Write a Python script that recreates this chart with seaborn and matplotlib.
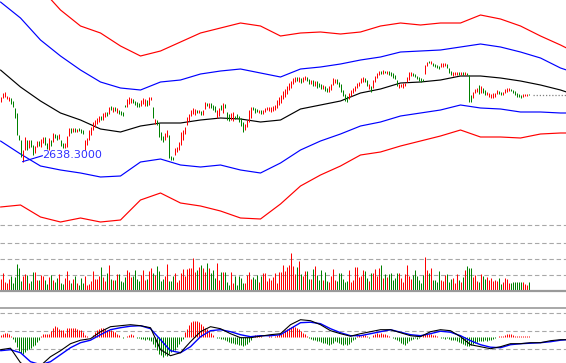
import numpy as np
import pandas as pd
import matplotlib
matplotlib.use("Agg")
import matplotlib.pyplot as plt
import seaborn as sns

# ---------------- data ----------------
# daily candles (index points)
open_px = [
    2698, 2702, 2703, 2701, 2699, 2702, 2699, 2692, 2687, 2665,
    2660, 2638.3, 2650, 2660, 2652, 2660, 2655, 2647, 2653, 2659,
    2653, 2657, 2663, 2657, 2650, 2660, 2658, 2666, 2665, 2661,
    2660, 2657, 2652, 2653, 2664, 2672, 2668, 2672, 2668, 2672,
    2671, 2670, 2650, 2655, 2660, 2665, 2670, 2673, 2676, 2678,
    2684, 2680, 2683, 2688, 2686, 2694, 2688, 2693, 2687, 2690,
    2689, 2688, 2695, 2693, 2696, 2697, 2701, 2699, 2698, 2697,
    2694, 2696, 2694, 2700, 2695, 2700, 2693, 2676, 2680, 2677,
    2668, 2664, 2660, 2663, 2665, 2644, 2643, 2645, 2648, 2650,
    2655, 2660, 2666, 2675, 2679, 2684, 2686, 2685, 2690, 2687,
    2689, 2685, 2691, 2697, 2692, 2697, 2695, 2694, 2682, 2684,
    2695, 2687, 2696, 2688, 2686, 2680, 2679, 2684, 2686, 2684,
    2682, 2678, 2670, 2673, 2678, 2682, 2693, 2692, 2691, 2687,
    2690, 2686, 2688, 2690, 2689, 2688, 2689, 2690, 2692, 2695,
    2697, 2701, 2703, 2706, 2710, 2712, 2716, 2718, 2723, 2718,
    2722, 2718, 2720, 2723, 2721, 2716, 2720, 2714, 2719, 2717,
    2716, 2711, 2714, 2712, 2708, 2710, 2715, 2717, 2721, 2718,
    2716, 2710, 2706, 2704, 2701, 2704, 2707, 2709, 2712, 2714,
    2717, 2718, 2722, 2720, 2711, 2714, 2712, 2718, 2722, 2725,
    2729, 2726, 2729, 2726, 2729, 2728, 2727, 2725, 2720, 2712,
    2713, 2712, 2714, 2718, 2720, 2724, 2727, 2726, 2724, 2723,
    2722, 2721, 2726, 2734, 2739, 2736, 2737, 2736, 2735, 2734,
    2733, 2733, 2734, 2736, 2732, 2729, 2724, 2725, 2725, 2728,
    2725, 2728, 2725, 2727, 2725, 2705, 2702, 2707, 2708, 2715,
    2707, 2712, 2710, 2705, 2703, 2702, 2702, 2703, 2706, 2709,
    2708, 2705, 2707, 2708, 2709, 2711, 2710, 2709, 2707, 2706,
    2705, 2703, 2704, 2704, 2706,
]
close_px = [
    2703, 2707, 2708, 2704, 2703, 2696, 2693, 2682, 2665, 2660,
    2643, 2650, 2663, 2650, 2660, 2653, 2645, 2654, 2659, 2654,
    2661, 2663, 2655, 2651, 2662, 2654, 2667, 2662, 2660, 2666,
    2654, 2652, 2657, 2664, 2672, 2667, 2672, 2668, 2671, 2669,
    2667, 2666, 2660, 2662, 2670, 2673, 2678, 2680, 2682, 2684,
    2680, 2687, 2688, 2684, 2693, 2690, 2693, 2689, 2692, 2686,
    2685, 2684, 2693, 2701, 2703, 2702, 2697, 2695, 2693, 2693,
    2700, 2702, 2701, 2694, 2703, 2703, 2682, 2681, 2675, 2663,
    2660, 2658, 2667, 2670, 2642, 2640, 2640, 2652, 2653, 2658,
    2668, 2670, 2673, 2683, 2686, 2690, 2692, 2691, 2687, 2690,
    2685, 2690, 2698, 2694, 2697, 2692, 2690, 2688, 2690, 2692,
    2690, 2697, 2692, 2680, 2679, 2687, 2688, 2681, 2682, 2678,
    2674, 2668, 2676, 2680, 2690, 2693, 2690, 2687, 2688, 2690,
    2686, 2690, 2692, 2693, 2693, 2693, 2694, 2695, 2700, 2703,
    2705, 2709, 2711, 2714, 2717, 2719, 2722, 2723, 2719, 2723,
    2717, 2723, 2724, 2719, 2716, 2720, 2714, 2719, 2712, 2713,
    2711, 2715, 2709, 2708, 2714, 2716, 2722, 2721, 2716, 2713,
    2708, 2704, 2699, 2698, 2707, 2710, 2712, 2714, 2717, 2718,
    2722, 2723, 2718, 2714, 2716, 2708, 2720, 2724, 2727, 2729,
    2726, 2730, 2727, 2729, 2725, 2724, 2722, 2721, 2714, 2716,
    2716, 2717, 2717, 2723, 2728, 2728, 2724, 2723, 2721, 2719,
    2718, 2719, 2735, 2738, 2737, 2739, 2734, 2733, 2732, 2731,
    2737, 2737, 2737, 2732, 2727, 2725, 2728, 2728, 2728, 2725,
    2728, 2725, 2728, 2725, 2698, 2698, 2708, 2711, 2712, 2706,
    2714, 2707, 2705, 2708, 2707, 2706, 2707, 2707, 2710, 2706,
    2705, 2708, 2711, 2712, 2712, 2709, 2707, 2705, 2703, 2703,
    2702, 2706, 2706, 2706, 2705,
]
volume = [
    12, 18, 9, 8, 12, 15, 8, 14, 27, 23,
    10, 15, 17, 16, 8, 10, 19, 19, 11, 11,
    16, 15, 11, 7, 14, 16, 11, 9, 13, 17,
    8, 7, 13, 20, 11, 8, 12, 15, 8, 6,
    13, 8, 15, 6, 7, 10, 20, 12, 12, 15,
    24, 14, 10, 18, 26, 12, 11, 11, 17, 17,
    10, 9, 14, 21, 19, 14, 15, 21, 12, 10,
    16, 21, 11, 12, 20, 23, 18, 16, 25, 20,
    10, 12, 15, 27, 10, 10, 15, 18, 9, 11,
    18, 22, 15, 22, 23, 23, 33, 19, 21, 24,
    26, 23, 19, 28, 23, 18, 21, 13, 28, 11,
    19, 19, 19, 9, 6, 19, 8, 15, 6, 15,
    13, 8, 8, 16, 19, 12, 14, 12, 16, 9,
    15, 18, 18, 10, 13, 11, 14, 18, 8, 19,
    19, 26, 20, 24, 26, 38, 25, 17, 24, 30,
    17, 15, 20, 20, 12, 12, 22, 25, 16, 11,
    21, 11, 19, 10, 9, 15, 22, 11, 10, 18,
    18, 12, 9, 10, 21, 9, 11, 24, 24, 14,
    15, 21, 20, 13, 10, 18, 18, 22, 15, 23,
    26, 13, 17, 14, 17, 18, 11, 13, 18, 18,
    13, 9, 17, 26, 15, 12, 16, 21, 15, 11,
    8, 16, 34, 21, 18, 23, 11, 11, 9, 20,
    11, 10, 16, 17, 9, 12, 13, 8, 17, 11,
    9, 14, 21, 25, 23, 23, 14, 16, 10, 9,
    17, 15, 12, 14, 11, 13, 10, 11, 10, 13,
    7, 9, 13, 12, 8, 8, 9, 9, 9, 9,
    9, 9, 7, 6, 9,
]
macd_hist = [
    2, 3, 4, 4, 3, 1, -2, -5, -10, -14,
    -16, -17, -15, -13, -12, -11, -9, -8, -5, -3,
    1, 3, 3, 3, 3, 6, 9, 11, 10, 8,
    7, 7, 4, 9, 9, 9, 9, 9, 8, 7,
    7, 5, 2, 1, 0, 0, 2, 5, 7, 8,
    9, 9, 8, 7, 7, 7, 6, 5, 3, 2,
    0, -1, 0, 1, 2, 3, 2, 0, -1, -1,
    -2, -2, -3, -2, -3, -4, -7, -10, -13, -17,
    -18, -20, -18, -19, -17, -15, -14, -13, -10, -7,
    -4, -2, 5, 8, 12, 15, 16, 16, 16, 15,
    13, 11, 9, 8, 6, 4, 2, 0, -1, -1,
    -2, -2, -3, -4, -5, -6, -6, -7, -7, -8,
    -8, -9, -8, -7, -5, -3, 0, 2, 2, 1,
    1, 0, 0, 0, 1, 1, 0, 1, 2, 3,
    3,
    4, 7, 8, 9, 10, 11, 10, 9, 8, 6,
    4, 3, 1, -1, -2, -3, -3, -4, -4, -5,
    -6, -6, -7, -8, -7, -6, -4, -5, -6, -7,
    -8, -7, -8, -7, -5, -3, -2, 1, 2, 1,
    2, 2, 1, -1, 0, 2, 3, 4, 3, 4,
    3, 3, 2, 1, 0, -1, -2, -3, -4, -6,
    -7, -8, -6, -4, -3, -2, -1, -2, -1, 0,
    2, 3, 3, 3, 3, 2, 2, 1, 0, -1,
    -1, -2, -1, -2, -3, -3, -3, -4, -5, -6,
    -7, -8, -9, -9, -8, -7, -6, -5, -4, -4,
    -4, -3, -4, -3, -3, -2, -1, 0, 1, 1,
    1, 2, 3, 3, 3, 2, 1, 1, 0.5, 0.5,
    0.5, 0.5, 0.5, 0.5,
]

# envelope bands, sampled every 10 bars
band_idx = list(range(0, 281, 10)) + [283]
outer_up = [2840, 2827, 2812, 2790, 2774, 2767, 2754, 2744, 2749, 2758,
            2767, 2772, 2777, 2774, 2764, 2767, 2768, 2766, 2768, 2774,
            2777, 2775, 2777, 2777, 2785, 2781, 2774, 2764, 2755, 2752]
inner_up = [2798, 2782, 2760, 2744, 2730, 2718, 2712, 2710, 2718, 2720,
            2726, 2729, 2731, 2727, 2723, 2731, 2733, 2736, 2740, 2743,
            2748, 2749, 2750, 2753, 2756, 2753, 2748, 2742, 2732, 2730]
mid_line = [2730, 2713, 2699, 2687, 2680, 2671, 2668, 2674, 2677, 2677,
            2680, 2682, 2681, 2678, 2680, 2691, 2695, 2699, 2707, 2711,
            2717, 2718, 2720, 2724, 2724, 2722, 2719, 2715, 2710, 2708]
inner_dn = [2659, 2646, 2634, 2630, 2627, 2623, 2624, 2638, 2641, 2635,
            2633, 2635, 2630, 2627, 2637, 2650, 2659, 2666, 2674, 2678,
            2684, 2687, 2690, 2695, 2692, 2691, 2688, 2688, 2687, 2687]
outer_dn = [2593, 2595, 2583, 2578, 2582, 2578, 2580, 2600, 2607, 2597,
            2594, 2589, 2582, 2581, 2596, 2614, 2625, 2634, 2645, 2648,
            2654, 2659, 2664, 2670, 2663, 2663, 2662, 2666, 2667, 2667]

# MACD lines, sampled every 5 bars
macd_idx = list(range(0, 281, 5)) + [283]
dif = [-13, -11.5, -26, -32, -29, -20, -14, -7, -3.5, -2,
       5, 10, 11, 12, 11, 9, -13, -19, -16, -5,
       5, 10, 8, 3, -1, -1, 0.5, 2, 3, 12,
       17, 16, 12, 6, 3, 0.5, 3, 5, 7, 7,
       4, 1, 0, 5, 7, 6, 0, -8, -10, -12,
       -10, -7, -7, -6, -6, -4, -3, -3]
dea = [-14, -13, -16, -25, -28, -25, -18, -11, -6, -3.5,
       2, 7, 9, 10.5, 11, 8, -3, -14, -16, -10,
       0, 6, 7, 5, 2, 0, 1, 1, 2, 8,
       14, 14.5, 13, 8, 4, 1, 1, 3, 5, 7,
       4.5, 2, 1, 3, 5.5, 4.5, 1, -4, -8, -10.5,
       -11, -8, -7, -6.5, -6, -5, -3.5, -3]

low_label = "2638.3000"

# ---------------- style ----------------
RED = "#ff0000"
GREEN = "#008000"
BLUE = "#0000ff"
GRID = "#a8a8a8"
DASH = (0, (4, 2.5))
X_LEFT, X_RIGHT = -0.25, 282.75   # puts every bar on a pixel centre
BAR_LW = 0.72                     # one pixel at 100 dpi

sns.set_theme(style="white")
plt.rcParams['font.family'] = ['DejaVu Sans']

H = 363.0
fig = plt.figure(figsize=(5.66, 3.63), dpi=100)
ax_k = fig.add_axes([0, 1 - 224 / H, 1, 224 / H])
ax_v = fig.add_axes([0, 1 - 291 / H, 1, 67 / H])
ax_m = fig.add_axes([0, 0, 1, 55 / H])

idx = np.arange(len(close_px))
o = np.array(open_px, dtype=float)
c = np.array(close_px, dtype=float)
up = c >= o
colors = [RED if u else GREEN for u in up]

# ---- price panel ----
bands = pd.DataFrame({"idx": band_idx, "outer_up": outer_up, "inner_up": inner_up,
                      "mid": mid_line, "inner_dn": inner_dn, "outer_dn": outer_dn})
for col, colr in [("outer_up", RED), ("outer_dn", RED),
                  ("inner_up", BLUE), ("inner_dn", BLUE), ("mid", "black")]:
    sns.lineplot(data=bands, x="idx", y=col, ax=ax_k, color=colr, lw=0.85)

ax_k.vlines(idx, np.minimum(o, c), np.maximum(o, c), colors=colors, lw=BAR_LW)

# last price guide line
ax_k.hlines(c[-1], len(c) + 1, X_RIGHT, colors="#808080",
            linestyles=(0, (1, 1.5)), lw=0.9)

# lowest point label
i_low = int(np.argmin(np.minimum(o, c)))
p_low = min(o[i_low], c[i_low])
ax_k.plot([i_low, i_low + 10], [p_low, p_low + 6], color=BLUE, lw=0.8)
ax_k.text(i_low + 10, p_low + 7, low_label, color="#3030ff", fontsize=8,
          ha="left", va="center")

ax_k.set_xlim(X_LEFT, X_RIGHT)
ax_k.set_ylim(2576, 2800)
ax_k.set_axis_off()

# ---- volume panel ----
for lv in [16, 32, 48, 66]:
    ax_v.axhline(lv, color=GRID, lw=0.8, ls=DASH, zorder=0)
ax_v.vlines(idx, 0, volume, colors=colors, lw=BAR_LW)
ax_v.axhline(0, color="#999999", lw=1.6, clip_on=False)
ax_v.set_xlim(X_LEFT, X_RIGHT)
ax_v.set_ylim(0, 67)
ax_v.set_axis_off()

# ---- MACD panel ----
m_lo, m_hi = -26.3, 28.7
for lv in [23.7, 5.7, -12.3]:
    ax_m.axhline(lv, color=GRID, lw=0.8, ls=DASH, zorder=0)
ax_m.axhline(m_hi, color="#999999", lw=1.2, clip_on=False)
hist = np.array(macd_hist, dtype=float)
hist_colors = [RED if h >= 0 else GREEN for h in hist]
ax_m.vlines(idx, 0, hist, colors=hist_colors, lw=BAR_LW)
macd = pd.DataFrame({"idx": macd_idx, "dif": dif, "dea": dea})
sns.lineplot(data=macd, x="idx", y="dea", ax=ax_m, color=BLUE, lw=1.0)
sns.lineplot(data=macd, x="idx", y="dif", ax=ax_m, color="black", lw=0.8)
ax_m.set_xlim(X_LEFT, X_RIGHT)
ax_m.set_ylim(m_lo, m_hi)
ax_m.set_axis_off()

fig.savefig("out.png", dpi=100)
